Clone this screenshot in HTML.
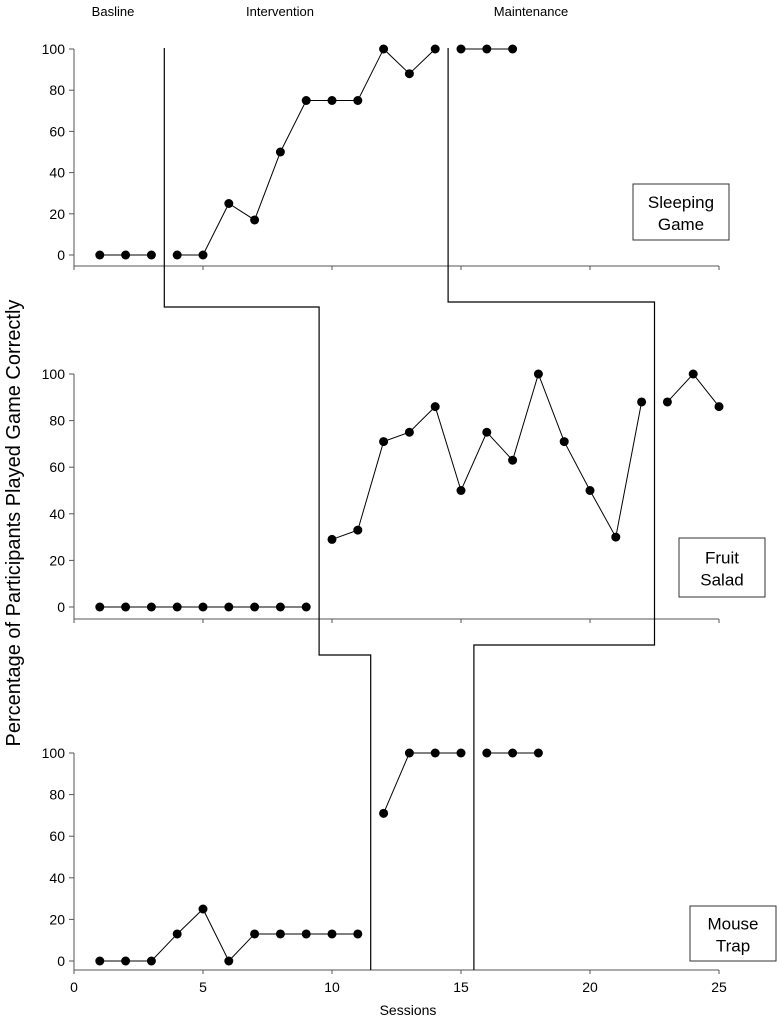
<!DOCTYPE html>
<html><head><meta charset="utf-8"><style>
html,body{margin:0;padding:0;background:#fff;}
svg{display:block;font-family:"Liberation Sans",Arial,sans-serif;}
</style></head><body>
<svg id="chart" width="777" height="1027" viewBox="0 0 777 1027" xmlns="http://www.w3.org/2000/svg"></svg>
<script>
const sessions1 = [1,2,3,4,5,6,7,8,9,10,11,12,13,14,15,16,17];
const sleepingGame = [0,0,0,0,0,25,17,50,75,75,75,100,88,100,100,100,100];
const segments1 = [[0,3],[3,14],[14,17]];
const sessions2 = [1,2,3,4,5,6,7,8,9,10,11,12,13,14,15,16,17,18,19,20,21,22,23,24,25];
const fruitSalad = [0,0,0,0,0,0,0,0,0,29,33,71,75,86,50,75,63,100,71,50,30,88,88,100,86];
const segments2 = [[0,9],[9,22],[22,25]];
const sessions3 = [1,2,3,4,5,6,7,8,9,10,11,12,13,14,15,16,17,18];
const mouseTrap = [0,0,0,13,25,0,13,13,13,13,13,71,100,100,100,100,100,100];
const segments3 = [[0,11],[11,15],[15,18]];
const yTicks = [0,20,40,60,80,100];
const xTicks = [0,5,10,15,20,25];

const svg = document.getElementById('chart');
const NS = 'http://www.w3.org/2000/svg';
const X0 = 74, XS = 25.8;
const sx = v => X0 + v*XS;
function mk(tag, attrs, parent){const e=document.createElementNS(NS,tag);for(const k in attrs)e.setAttribute(k,attrs[k]);(parent||svg).appendChild(e);return e;}

const panels = [
 {name:'sleeping-game', xs:sessions1, ys:sleepingGame, seg:segments1, y0:255, y100:49, axisY:266, label:['Sleeping','Game'], box:[633,184,96,56]},
 {name:'fruit-salad', xs:sessions2, ys:fruitSalad, seg:segments2, y0:607, y100:374, axisY:619, label:['Fruit','Salad'], box:[679,538,86,59]},
 {name:'mouse-trap', xs:sessions3, ys:mouseTrap, seg:segments3, y0:961, y100:753, axisY:970, label:['Mouse','Trap'], box:[690,906,86,55]}
];

panels.forEach((p,pi)=>{
  const g = mk('g',{});
  
  
  const sy = v => p.y0 + (p.y100-p.y0)*v/100;
  // y axis
  const ya = mk('line',{x1:X0,y1:p.y100,x2:X0,y2:p.axisY,stroke:'#555','stroke-width':1},g);
  
  
  yTicks.forEach(t=>{
    mk('line',{x1:X0-5,y1:sy(t),x2:X0,y2:sy(t),stroke:'#555'},g);
    const tx = mk('text',{x:X0-9,y:sy(t)+5,'text-anchor':'end','font-size':14},g);
    tx.textContent = t;
    
    
  });
  // x axis
  const xa = mk('line',{x1:X0,y1:p.axisY,x2:sx(25),y2:p.axisY,stroke:'#555'},g);
  
  
  xTicks.forEach(t=>{
    mk('line',{x1:sx(t),y1:p.axisY,x2:sx(t),y2:p.axisY+4,stroke:'#555'},g);
    if(pi===2){
      const tx = mk('text',{x:sx(t),y:p.axisY+22,'text-anchor':'middle','font-size':14},g);
      tx.textContent = t;
      
      
    }
  });
  // series
  p.seg.forEach(([a,b])=>{
    const pts = [];
    for(let i=a;i<b;i++) pts.push(sx(p.xs[i])+','+sy(p.ys[i]));
    const pl = mk('polyline',{points:pts.join(' '),fill:'none',stroke:'#000','stroke-width':1},g);
    
    
  });
  p.xs.forEach((x,i)=>{
    const c = mk('circle',{cx:sx(x),cy:sy(p.ys[i]),r:4.5,fill:'#000'},g);
    
    
  });
  // label box
  const [bx,by,bw,bh]=p.box;
  mk('rect',{x:bx,y:by,width:bw,height:bh,fill:'#fff',stroke:'#333'},g);
  p.label.forEach((l,li)=>{
    const t = mk('text',{x:bx+bw/2,y:by+bh/2-4+li*22,'text-anchor':'middle','font-size':17},g);
    t.textContent = l;
    
    
  });
});

// phase change lines
const phase1 = mk('polyline',{points:`${sx(3.5)},48 ${sx(3.5)},307 ${sx(9.5)},307 ${sx(9.5)},655 ${sx(11.5)},655 ${sx(11.5)},970`,fill:'none',stroke:'#000','stroke-width':1.2});


const phase2 = mk('polyline',{points:`${sx(14.5)},48 ${sx(14.5)},302 ${sx(22.5)},302 ${sx(22.5)},645 ${sx(15.5)},645 ${sx(15.5)},970`,fill:'none',stroke:'#000','stroke-width':1.2});



// phase labels
[['Basline',113],['Intervention',280],['Maintenance',531]].forEach(([t,x])=>{
  const e = mk('text',{x:x,y:16,'text-anchor':'middle','font-size':13});
  e.textContent = t;
  
  
});
const xt = mk('text',{x:408,y:1015,'text-anchor':'middle','font-size':14});
xt.textContent='Sessions';


const yt = mk('text',{x:0,y:0,'text-anchor':'middle','font-size':20,transform:'translate(20,523) rotate(-90)'});
yt.textContent='Percentage of Participants Played Game Correctly';


</script>
</body></html>
